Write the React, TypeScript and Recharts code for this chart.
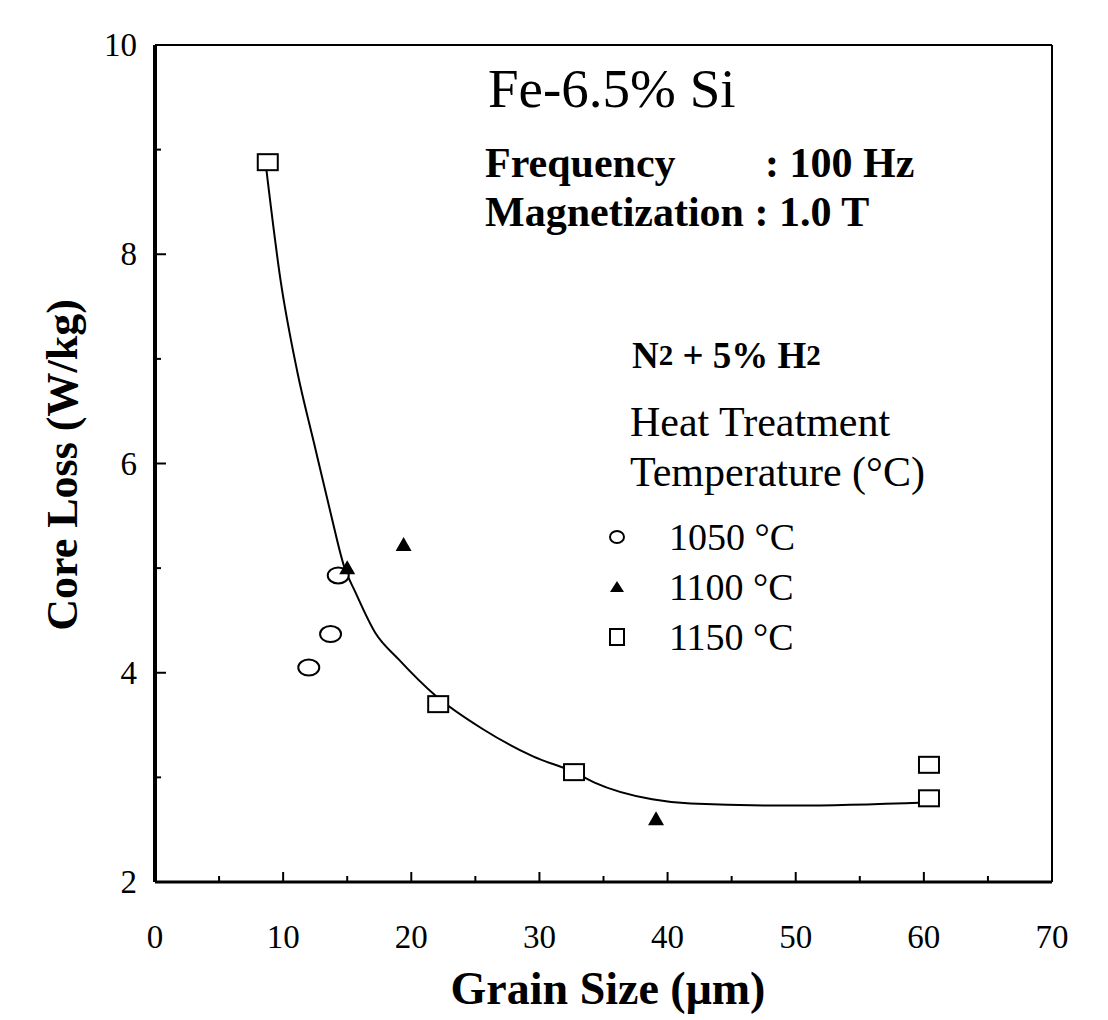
import React from "react";
import { ComposedChart, Line, Scatter, XAxis, YAxis, Legend } from "recharts";

const FONT = '"Liberation Serif", "Times New Roman", Times, serif';

// axis ticks (labels only on the major ones)
const xTicks = [0, 5, 10, 15, 20, 25, 30, 35, 40, 45, 50, 55, 60, 65, 70];
const yTicks = [2, 3, 4, 5, 6, 7, 8, 9, 10];

// measured points, grain size (um) vs core loss (W/kg)
const grain1050 = [12.0, 13.7, 14.3];
const loss1050 = [4.05, 4.37, 4.93];
const grain1100 = [15.0, 19.4, 39.1];
const loss1100 = [5.0, 5.22, 2.6];
const grain1150 = [8.8, 22.1, 32.7, 60.4, 60.4];
const loss1150 = [8.88, 3.7, 3.05, 3.12, 2.8];

// hand drawn trend curve
const curveGrain = [8.7, 9.8, 11.1, 12.4, 13.7, 14.8, 15.6, 17.2, 19.0, 21.9, 25.6, 29.5, 32.7, 34.3, 38.8, 41.8, 50, 60.2];
const curveLoss = [8.8, 7.75, 6.88, 6.2, 5.53, 5.0, 4.78, 4.38, 4.13, 3.78, 3.46, 3.2, 3.05, 2.95, 2.79, 2.75, 2.73, 2.76];

const zip = (xs: number[], ys: number[]) => xs.map((x, i) => ({ x, y: ys[i] }));

const data1050 = zip(grain1050, loss1050);
const data1100 = zip(grain1100, loss1100);
const data1150 = zip(grain1150, loss1150);
const curveData = zip(curveGrain, curveLoss);

const Oval = (p: any) => (
  <ellipse cx={p.cx} cy={p.cy} rx={10.5} ry={8} fill="#fff" stroke="#000" strokeWidth={2} />
);
const Tri = (p: any) => (
  <polygon
    points={`${p.cx - 8},${p.cy + 6} ${p.cx + 8},${p.cy + 6} ${p.cx},${p.cy - 8}`}
    fill="#000"
  />
);
const Box = (p: any) => (
  <rect x={p.cx - 10} y={p.cy - 8} width={20} height={16} fill="#fff" stroke="#000" strokeWidth={2} />
);

const BottomTick = ({ x, y, payload }: any) => {
  const major = payload.value % 10 === 0;
  return (
    <g>
      <line x1={x} x2={x} y1={y} y2={y - (major ? 10 : 6)} stroke="#000" strokeWidth={2} />
      {major && (
        <text x={x} y={y + 55} textAnchor="middle" dominantBaseline="central" fontFamily={FONT} fontSize={33} fill="#000">
          {payload.value}
        </text>
      )}
    </g>
  );
};

const LeftTick = ({ x, y, payload }: any) => {
  const major = payload.value % 2 === 0;
  return (
    <g>
      <line x1={x} x2={x + (major ? 11 : 6)} y1={y} y2={y} stroke="#000" strokeWidth={2} />
      {major && (
        <text x={x - 18} y={y} textAnchor="end" dominantBaseline="central" fontFamily={FONT} fontSize={33} fill="#000">
          {payload.value}
        </text>
      )}
    </g>
  );
};

const TopTick = ({ x, y }: any) => <line x1={x} x2={x} y1={y} y2={y + 6} stroke="#000" strokeWidth={1.5} />;
const RightTick = ({ x, y }: any) => <line x1={x} x2={x - 6} y1={y} y2={y} stroke="#000" strokeWidth={1.5} />;

const legendIcons: Record<string, (cx: number, cy: number) => React.ReactNode> = {
  "1050 °C": (cx, cy) => <ellipse cx={cx} cy={cy} rx={7} ry={6} fill="#fff" stroke="#000" strokeWidth={2} />,
  "1100 °C": (cx, cy) => <polygon points={`${cx - 7},${cy + 5} ${cx + 7},${cy + 5} ${cx},${cy - 6}`} fill="#000" />,
  "1150 °C": (cx, cy) => <rect x={cx - 7} y={cy - 8} width={14} height={16} fill="#fff" stroke="#000" strokeWidth={2} />,
};

const LegendBox = ({ payload }: any) => (
  <div>
    {(payload || [])
      .filter((item: any) => legendIcons[item.value])
      .map((item: any) => (
        <div key={item.value} style={{ display: "flex", alignItems: "center", height: 50 }}>
          <svg width={36} height={30}>{legendIcons[item.value](18, 15)}</svg>
          <span style={{ marginLeft: 34, fontFamily: FONT, fontSize: 38, color: "#000", lineHeight: "50px" }}>
            {item.value}
          </span>
        </div>
      ))}
  </div>
);

export default function App() {
  return (
    <div style={{ position: "absolute", left: 0, top: 0, width: 1108, height: 1020, background: "#fff" }}>
      <ComposedChart width={1108} height={1020} margin={{ top: 44, right: 55, left: 95, bottom: 78 }}>
        <XAxis
          type="number"
          dataKey="x"
          domain={[0, 70]}
          ticks={xTicks}
          interval={0}
          tickLine={false}
          tickSize={0}
          tickMargin={0}
          height={60}
          axisLine={{ stroke: "#000", strokeWidth: 3 }}
          tick={(p: any) => <BottomTick {...p} />}
          allowDataOverflow
        />
        <XAxis
          xAxisId="top"
          orientation="top"
          type="number"
          domain={[0, 70]}
          ticks={xTicks}
          interval={0}
          tickLine={false}
          tickSize={0}
          tickMargin={0}
          height={1}
          axisLine={{ stroke: "#000", strokeWidth: 2 }}
          tick={(p: any) => <TopTick {...p} />}
        />
        <YAxis
          type="number"
          dataKey="y"
          domain={[2, 10]}
          ticks={yTicks}
          interval={0}
          tickLine={false}
          tickSize={0}
          tickMargin={0}
          width={60}
          axisLine={{ stroke: "#000", strokeWidth: 4 }}
          tick={(p: any) => <LeftTick {...p} />}
          allowDataOverflow
        />
        <YAxis
          yAxisId="right"
          orientation="right"
          type="number"
          domain={[2, 10]}
          ticks={yTicks}
          interval={0}
          tickLine={false}
          tickSize={0}
          tickMargin={0}
          width={1}
          axisLine={{ stroke: "#000", strokeWidth: 2 }}
          tick={(p: any) => <RightTick {...p} />}
        />
        <Line
          data={curveData}
          dataKey="y"
          type="monotone"
          stroke="#000"
          strokeWidth={2}
          dot={false}
          legendType="none"
          isAnimationActive={false}
        />
        <Scatter name="1050 °C" data={data1050} shape={Oval} isAnimationActive={false} />
        <Scatter name="1100 °C" data={data1100} shape={Tri} isAnimationActive={false} />
        <Scatter name="1150 °C" data={data1150} shape={Box} isAnimationActive={false} />
        <Legend
          layout="vertical"
          align="center"
          verticalAlign="middle"
          content={<LegendBox />}
          wrapperStyle={{ position: "absolute", left: 599, top: 512, width: 280 }}
        />
      </ComposedChart>

      <svg
        width={1108}
        height={1020}
        style={{ position: "absolute", left: 0, top: 0, pointerEvents: "none" }}
        fontFamily={FONT}
        fill="#000"
      >
        <text x={488} y={88} fontSize={55} dominantBaseline="central">Fe-6.5% Si</text>
        <text x={485} y={163} fontSize={42} fontWeight="bold" dominantBaseline="central">Frequency</text>
        <text x={765} y={163} fontSize={42} fontWeight="bold" dominantBaseline="central">: 100 Hz</text>
        <text x={485} y={212} fontSize={42} fontWeight="bold" dominantBaseline="central">Magnetization : 1.0 T</text>
        <text x={632} y={355} fontSize={37} fontWeight="bold" dominantBaseline="central">
          N<tspan fontSize={29}>2</tspan> + 5% H<tspan fontSize={29}>2</tspan>
        </text>
        <text x={630} y={422} fontSize={42} dominantBaseline="central">Heat Treatment</text>
        <text x={630} y={472} fontSize={42} dominantBaseline="central">Temperature (°C)</text>
        <text
          x={62}
          y={465}
          fontSize={44}
          fontWeight="bold"
          textAnchor="middle"
          dominantBaseline="central"
          transform="rotate(-90 62 465)"
        >
          Core Loss (W/kg)
        </text>
        <text x={608} y={988} fontSize={46} fontWeight="bold" textAnchor="middle" dominantBaseline="central">
          Grain Size (μm)
        </text>
      </svg>
    </div>
  );
}
